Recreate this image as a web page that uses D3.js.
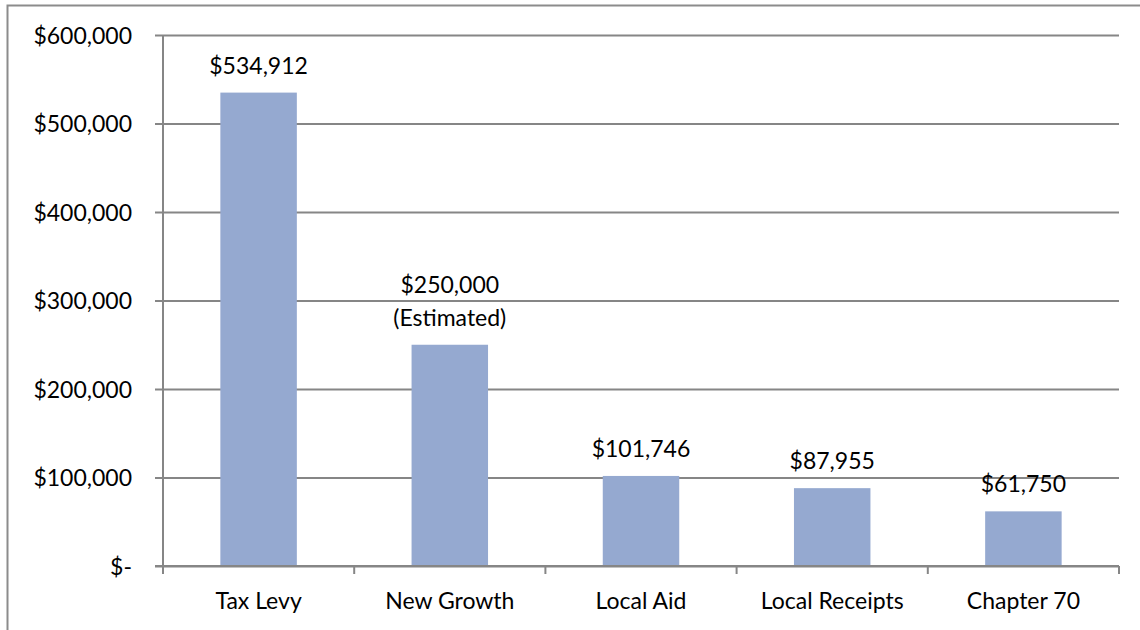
<!DOCTYPE html>
<html>
<head>
<meta charset="utf-8">
<script src="https://cdn.jsdelivr.net/npm/d3@7"></script>
<style>
  html, body { margin: 0; padding: 0; background: #fff; overflow: hidden; }
  svg { display: block; }
  text { font-family: Lato, "Open Sans", sans-serif; fill: #000; }
</style>
</head>
<body>
<svg id="chart" width="1140" height="630"></svg>
<script>
const categories = ["Tax Levy", "New Growth", "Local Aid", "Local Receipts", "Chapter 70"];
const values = [534912, 250000, 101746, 87955, 61750];
const valueLabels = [["$534,912"], ["$250,000", "(Estimated)"], ["$101,746"], ["$87,955"], ["$61,750"]];
const yTicks = [0, 100000, 200000, 300000, 400000, 500000, 600000];
const yTickLabels = ["$-", "$100,000", "$200,000", "$300,000", "$400,000", "$500,000", "$600,000"];

(function () {
const svg = d3.select("#chart");
const pLeft = 163, pRight = 1119, pTop = 35, pBottom = 566;
const gridColor = "#868686";
const fontSize = 23;

// outer border
svg.append("rect").attr("x", 7.5).attr("y", 5.5).attr("width", 1140).attr("height", 640)
  .attr("fill", "none").attr("stroke", "#8c8c8c").attr("stroke-width", 2);

const x = d3.scaleBand().domain(categories).range([pLeft, pRight]).paddingInner(0.6).paddingOuter(0.3);
const xb = d3.scaleBand().domain(categories).range([pLeft, pRight]);
const y = d3.scaleLinear().domain([0, 600000]).range([pBottom, pTop]);

// gridlines with outward ticks
const yAxis = d3.axisLeft(y).tickValues(yTicks).tickSize(-(pRight - pLeft)).tickFormat((d, i) => yTickLabels[i]).tickPadding(31);
const gy = svg.append("g").attr("transform", `translate(${pLeft},0)`).call(yAxis);
gy.select(".domain").remove();
gy.selectAll(".tick line").attr("x1", -8).attr("stroke", gridColor).attr("stroke-width", 2);
gy.selectAll(".tick text").attr("font-size", fontSize).attr("font-family", "Lato").attr("fill", "#000").attr("dy", "0.35em");

// vertical axis line
svg.append("line").attr("x1", pLeft).attr("x2", pLeft).attr("y1", pTop).attr("y2", pBottom + 8)
  .attr("stroke", gridColor).attr("stroke-width", 2);

// bars
svg.append("g").selectAll("rect").data(values).join("rect")
  .attr("x", (d, i) => x(categories[i]))
  .attr("width", x.bandwidth())
  .attr("y", d => y(d))
  .attr("height", d => y(0) - y(d))
  .attr("fill", "#95a9d0");

// bottom axis line on top of bars
svg.append("line").attr("x1", pLeft - 8).attr("x2", pRight).attr("y1", pBottom).attr("y2", pBottom)
  .attr("stroke", gridColor).attr("stroke-width", 2);

// category ticks
const bounds = categories.map(c => xb(c) + xb.bandwidth());
svg.append("g").selectAll("line").data(bounds).join("line")
  .attr("x1", d => d).attr("x2", d => d).attr("y1", pBottom).attr("y2", pBottom + 8)
  .attr("stroke", gridColor).attr("stroke-width", 2);

// category labels
svg.append("g").selectAll("text").data(categories).join("text")
  .attr("x", d => xb(d) + xb.bandwidth() / 2)
  .attr("y", 609)
  .attr("text-anchor", "middle")
  .attr("font-size", fontSize)
  .text(d => d);

// value labels
const lg = svg.append("g");
values.forEach((v, i) => {
  const lines = valueLabels[i];
  const cx = xb(categories[i]) + xb.bandwidth() / 2;
  lines.forEach((t, j) => {
    lg.append("text")
      .attr("x", cx)
      .attr("y", y(v) - 19 - (lines.length - 1 - j) * 33)
      .attr("text-anchor", "middle")
      .attr("font-size", fontSize)
      .text(t);
  });
});
})();
</script>
</body>
</html>
